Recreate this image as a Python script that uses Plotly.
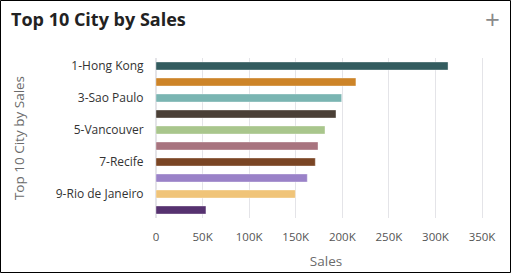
import plotly.graph_objects as go

cities = ["1-Hong Kong", "2-Tokyo", "3-Sao Paulo", "4-Seoul", "5-Vancouver",
          "6-Sydney", "7-Recife", "8-Shanghai", "9-Rio de Janeiro", "10-Montreal"]
sales = [313500, 214600, 199300, 193200, 181400, 173900, 171000, 162400, 149600, 53600]
colors = ["#335c5f", "#cd8428", "#7ab5b2", "#4a3f36", "#a9c68c",
          "#a8747f", "#7a4524", "#9a82c8", "#f0c479", "#563270"]
shown_labels = ["1-Hong Kong", "3-Sao Paulo", "5-Vancouver", "7-Recife", "9-Rio de Janeiro"]
x_ticks = [0, 50000, 100000, 150000, 200000, 250000, 300000, 350000]
x_labels = ["0", "50K", "100K", "150K", "200K", "250K", "300K", "350K"]

W, H = 511, 273
ml, mr, mt, mb = 156, 15, 58, 55
pw, ph = W - ml - mr, H - mt - mb

fig = go.Figure(go.Bar(
    x=sales, y=cities, orientation="h",
    marker=dict(color=colors, line=dict(color="rgba(255,255,255,0.35)", width=1)),
    width=0.5,
))

fig.update_layout(
    width=W, height=H,
    margin=dict(l=ml, r=mr, t=mt, b=mb, autoexpand=False),
    paper_bgcolor="white", plot_bgcolor="white",
    showlegend=False,
    font=dict(family="Open Sans, sans-serif"),
    xaxis=dict(
        range=[0, 365000], tickvals=x_ticks, ticktext=x_labels,
        showgrid=True, gridcolor="#e4e4e8", gridwidth=1,
        zeroline=True, zerolinecolor="#e4e4e8",
        tickfont=dict(size=11.5, color="#555555"),
        title=dict(text="Sales", font=dict(size=13.5, color="#6b6b6b"), standoff=13),
        ticks="outside", ticklen=8, tickcolor="rgba(0,0,0,0)",
        automargin=False, fixedrange=True,
    ),
    yaxis=dict(
        categoryorder="array", categoryarray=cities, autorange="reversed",
        tickvals=shown_labels, ticktext=shown_labels,
        tickfont=dict(size=12, color="#333333"),
        ticks="outside", ticklen=9, tickcolor="rgba(0,0,0,0)",
        showgrid=False,
        title=dict(text="Top 10 City by Sales", font=dict(size=13.5, color="#6b6b6b"), standoff=28),
        automargin=False, fixedrange=True,
    ),
    title=dict(text="<b>Top 10 City by Sales</b>", x=11 / W, xanchor="left",
               y=1 - 20 / H, yanchor="middle",
               font=dict(size=18, color="#222222")),
)

# outer border
fig.add_shape(type="rect", xref="paper", yref="paper",
              x0=(0.5 - ml) / pw, x1=(W - 0.5 - ml) / pw,
              y0=-(H - 0.5 - mt - ph) / ph, y1=(mt - 0.5) / ph + 1,
              line=dict(color="#000000", width=1), layer="above")

fig.add_annotation(text="+", xref="paper", yref="paper",
                   x=(492 - ml) / pw, y=1 + (mt - 19) / ph,
                   showarrow=False, font=dict(size=26, color="#8a8a8a"),
                   xanchor="center", yanchor="middle")

fig.write_html("out.html", config={"displayModeBar": False})
